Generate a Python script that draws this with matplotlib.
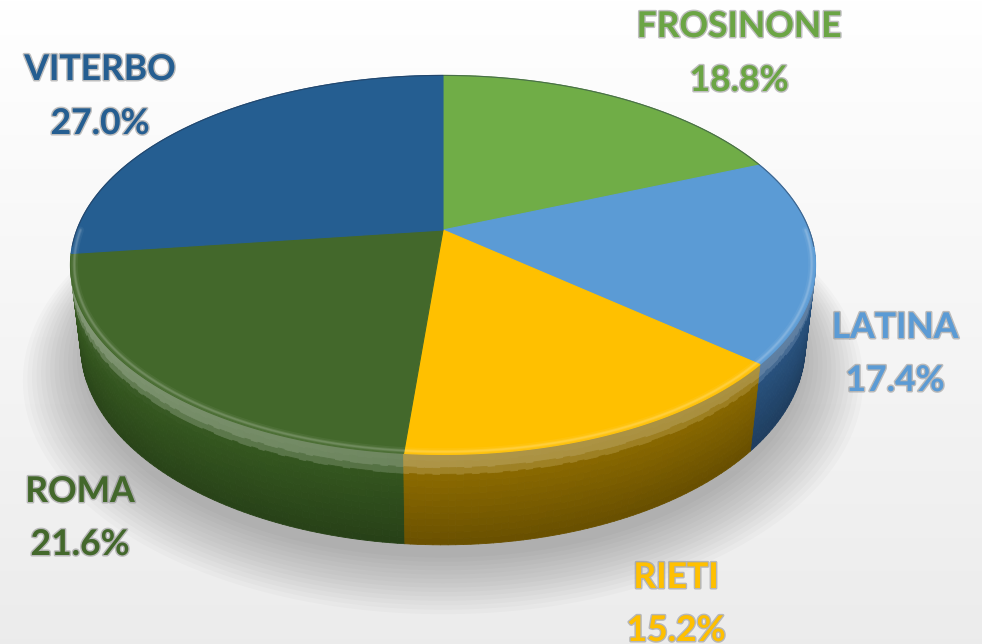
import numpy as np
import matplotlib
matplotlib.use("Agg")
import matplotlib.pyplot as plt
import matplotlib.colors as mcolors
import matplotlib.patheffects as pe
from matplotlib.collections import PolyCollection
from matplotlib.patches import Polygon

# Shares by province (percent), drawn clockwise from 12 o'clock
provinces = ["FROSINONE", "LATINA", "RIETI", "ROMA", "VITERBO"]
shares = [18.8, 17.4, 15.2, 21.6, 27.0]
top_colors = ["#70AD47", "#5B9BD5", "#FFC000", "#43682B", "#255E91"]
side_colors = ["#4A7530", "#2A5583", "#8E6C00", "#34561F", "#1A4570"]
label_colors = ["#6BA544", "#5B9BD5", "#FFC000", "#43682B", "#255E91"]

# label anchors (pixel layout): name baseline, value baseline
label_pos = {
    "FROSINONE": (739, 37, 91),
    "LATINA": (895, 338, 391),
    "RIETI": (676, 588, 641),
    "ROMA": (80, 502, 555),
    "VITERBO": (100, 80, 134),
}

W, H = 982, 644
fig = plt.figure(figsize=(W / 100, H / 100), dpi=100)
ax = fig.add_axes([0, 0, 1, 1])
ax.set_xlim(0, W)
ax.set_ylim(H, 0)
ax.axis("off")

# soft white-to-grey backdrop
g = np.linspace(1.0, 0.925, 256)[:, None]
bg = np.dstack([g * np.ones((256, 4))] * 3)
ax.imshow(bg, extent=(0, W, H, 0), aspect="auto", zorder=0, interpolation="bilinear")

# perspective camera for a disc of radius 1, top face at z=0
ELEV = np.radians(30)
DIST = 4.70
FOCAL = 1721.0
CX, CY = 443.0, 230.0
THICK = 0.26
sE, cE = np.sin(ELEV), np.cos(ELEV)


def project(x, y, z):
    depth = DIST + y * cE - z * sE
    v = y * sE + z * cE
    return CX + FOCAL * x / depth, CY - FOCAL * v / depth


def shade(color, f):
    r, gg, b = mcolors.to_rgb(color)
    if f >= 1:
        f = min(f, 2.0)
        return (r + (1 - r) * (f - 1), gg + (1 - gg) * (f - 1), b + (1 - b) * (f - 1))
    return (r * f, gg * f, b * f)


fracs = np.array(shares) / sum(shares)
cum = np.concatenate([[0], np.cumsum(fracs)])
starts = 90 - 360 * cum[:-1]
ends = 90 - 360 * cum[1:]

# drop shadow under the disc
ang = np.radians(np.linspace(0, 360, 361))
for i in range(14):
    r = 1.0 + 0.012 * i
    sx, sy = project(r * np.cos(ang), r * np.sin(ang), -THICK - 0.02)
    ax.add_patch(Polygon(np.column_stack([sx, sy + 6 + i * 0.8]), closed=True,
                         facecolor="black", edgecolor="none", alpha=0.018, zorder=1))

# side wall: small quads in horizontal bands, painted back to front
quads, qcols, qdepth = [], [], []
NB = 14
for k in range(len(shares)):
    a = np.radians(np.arange(starts[k], ends[k] - 1e-9, -1.0))
    a = np.append(a, np.radians(ends[k]))
    for j in range(len(a) - 1):
        a1, a2 = a[j], a[j + 1]
        ym = 0.5 * (np.sin(a1) + np.sin(a2))
        light = 1.0 + 0.15 * (0.5 - 0.5 * np.cos(0.5 * (a1 + a2) + np.radians(40)))
        for b in range(NB):
            z0 = -THICK * b / NB
            z1 = -THICK * (b + 1) / NB
            xs = [np.cos(a1), np.cos(a2), np.cos(a2), np.cos(a1)]
            ys = [np.sin(a1), np.sin(a2), np.sin(a2), np.sin(a1)]
            zs = [z0, z0, z1, z1]
            px, py = project(np.array(xs), np.array(ys), np.array(zs))
            t = (b + 0.5) / NB
            if t < 0.1:
                f = 1.25
            elif t < 0.25:
                f = 1.25 - (t - 0.1) * 1.6
            else:
                f = 1.02 - 0.3 * t
            quads.append(np.column_stack([px, py]))
            qcols.append(shade(side_colors[k], f * light))
            qdepth.append(ym)
order = np.argsort(-np.array(qdepth))
pc = PolyCollection([quads[i] for i in order], facecolors=[qcols[i] for i in order],
                    edgecolors=[qcols[i] for i in order], linewidths=0.6, zorder=2)
ax.add_collection(pc)

# top faces
for k in range(len(shares)):
    a = np.radians(np.linspace(starts[k], ends[k], 200))
    x = np.concatenate([[0], np.cos(a)])
    y = np.concatenate([[0], np.sin(a)])
    px, py = project(x, y, np.zeros_like(x))
    ax.add_patch(Polygon(np.column_stack([px, py]), closed=True,
                         facecolor=top_colors[k], edgecolor=top_colors[k],
                         linewidth=0.8, zorder=3))

# bevel highlight along the front rim and dark rim at the back
a = np.radians(np.linspace(-180, 0, 300))
for w, al in [(5, 0.05), (2.5, 0.09), (1.2, 0.12)]:
    px, py = project(0.99 * np.cos(a), 0.99 * np.sin(a), np.zeros_like(a))
    ax.plot(px, py, color="white", lw=w, alpha=al, zorder=4, solid_capstyle="round")
a = np.radians(np.linspace(-5, 185, 300))
px, py = project(np.cos(a), np.sin(a), np.zeros_like(a))
ax.plot(px, py, color="#20304a", lw=0.8, alpha=0.5, zorder=4)

# labels
font = dict(family=["Lato", "DejaVu Sans"], weight="bold", fontsize=25.5)
fx = [pe.withStroke(linewidth=2.2, foreground="#8c8c8c", alpha=0.55)]
for name, val, col in zip(provinces, shares, label_colors):
    x, yn, yv = label_pos[name]
    ax.text(x, yn, name, color=col, ha="center", va="baseline",
            path_effects=fx, zorder=6, **font)
    ax.text(x, yv, f"{val:.1f}%", color=col, ha="center", va="baseline",
            path_effects=fx, zorder=6, **font)

fig.savefig("out.png", dpi=100)
